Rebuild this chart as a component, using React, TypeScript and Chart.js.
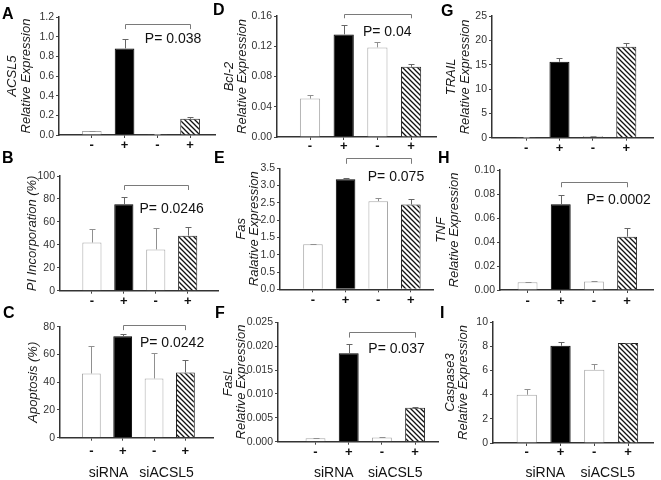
import React, { useEffect, useRef } from "react";
import { Chart, registerables } from "chart.js";

Chart.register(...registerables);

const FONT = "'Liberation Sans', Arial, Helvetica, sans-serif";
Chart.defaults.font.family = FONT;

// ---------- data ----------
const signs = ["-", "+", "-", "+"];
const barSlots = [1, 2, 3, 4];
const groupNames = ["siRNA", "siACSL5"];
const groupSlots = [1.55, 3.4];

const acsl5Values = [0.04, 0.88, 0.007, 0.165];
const acsl5Errors = [0.004, 0.1, 0.002, 0.018];
const piValues = [42, 75.3, 36, 48];
const piErrors = [12.2, 6, 18.4, 7.2];
const apoptosisValues = [46.3, 73.2, 42.7, 47];
const apoptosisErrors = [19.7, 1.8, 18.7, 8.9];
const bcl2Values = [0.0508, 0.1357, 0.1185, 0.0928];
const bcl2Errors = [0.0044, 0.0123, 0.0065, 0.0031];
const fasValues = [1.3, 3.18, 2.55, 2.45];
const fasErrors = [0.02, 0.05, 0.08, 0.15];
const faslValues = [0.0007, 0.0185, 0.0009, 0.0071];
const faslErrors = [0.0001, 0.002, 0.0001, 0.0002];
const trailValues = [0.14, 15.6, 0.34, 18.7];
const trailErrors = [0.05, 0.7, 0.05, 0.7];
const tnfValues = [0.0065, 0.0714, 0.007, 0.0444];
const tnfErrors = [0.0003, 0.0078, 0.0003, 0.0076];
const casp3Values = [3.99, 8.04, 6.06, 8.26];
const casp3Errors = [0.5, 0.31, 0.47, 0.03];

const acsl5Bracket = { level: 1.13, drop: 1.077, textX: 2.62, textY: 0.97, label: "P= 0.038" };
const piBracket = { level: 92.2, drop: 87.8, textX: 2.49, textY: 70.9, label: "P= 0.0246" };
const apoptosisBracket = { level: 81.5, drop: 77.5, textX: 2.55, textY: 68.3, label: "P= 0.0242" };
const bcl2Bracket = { level: 0.1627, drop: 0.157, textX: 2.57, textY: 0.138, label: "P= 0.04" };
const fasBracket = { level: 3.79, drop: 3.63, textX: 2.68, textY: 3.23, label: "P= 0.075" };
const faslBracket = { level: 0.0229, drop: 0.0218, textX: 2.59, textY: 0.0194, label: "P= 0.037" };
const tnfBracket = { level: 0.0903, drop: 0.0856, textX: 2.78, textY: 0.075, label: "P= 0.0002" };

// ---------- layout ----------
type Bracket = { level: number; drop: number; textX: number; textY: number; label: string };
type Box = { left: number; top: number; width: number; height: number };
type PanelSpec = {
  letter: string;
  letterPos: [number, number];
  box: Box;
  axisX: number;
  topY: number;
  zeroY: number;
  endX: number;
  xMin: number;
  xMax: number;
  title: string | string[];
  titleX: number;
  yMax: number;
  yStep: number;
  decimals: number;
  values: number[];
  errors: number[];
  bracket: Bracket | null;
  tickLabelY: number;
  groupY: number | null;
};

const cols = [
  { left: 0, width: 219 },
  { left: 205, width: 235 },
  { left: 425, width: 236 },
];
const rows = [
  { top: 0, height: 156 },
  { top: 148, height: 162 },
  { top: 303, height: 177 },
];
const cell = (c: number, r: number): Box => ({
  left: cols[c].left,
  width: cols[c].width,
  top: rows[r].top,
  height: rows[r].height,
});

const panels: PanelSpec[] = [
  {
    letter: "A", letterPos: [3, 8], box: cell(0, 0),
    axisX: 59, topY: 17, zeroY: 135, endX: 215, xMin: 0, xMax: 4.76,
    title: ["ACSL5", "Relative Expression"], titleX: 12.5,
    yMax: 1.2, yStep: 0.2, decimals: 1,
    values: acsl5Values, errors: acsl5Errors, bracket: acsl5Bracket,
    tickLabelY: 145, groupY: null,
  },
  {
    letter: "B", letterPos: [3, 152], box: cell(0, 1),
    axisX: 60, topY: 176, zeroY: 290.7, endX: 218, xMin: 0, xMax: 4.95,
    title: "PI Incorporation (%)", titleX: 32,
    yMax: 100, yStep: 20, decimals: 0,
    values: piValues, errors: piErrors, bracket: piBracket,
    tickLabelY: 301, groupY: null,
  },
  {
    letter: "C", letterPos: [4, 307], box: cell(0, 2),
    axisX: 60, topY: 326.7, zeroY: 437.7, endX: 213, xMin: 0, xMax: 4.88,
    title: "Apoptosis (%)", titleX: 33,
    yMax: 80, yStep: 20, decimals: 0,
    values: apoptosisValues, errors: apoptosisErrors, bracket: apoptosisBracket,
    tickLabelY: 451.7, groupY: 473.3,
  },
  {
    letter: "D", letterPos: [214, 4], box: cell(1, 0),
    axisX: 277, topY: 16, zeroY: 137, endX: 436, xMin: 0.02, xMax: 4.74,
    title: ["Bcl-2", "Relative Expression"], titleX: 229,
    yMax: 0.16, yStep: 0.04, decimals: 2,
    values: bcl2Values, errors: bcl2Errors, bracket: bcl2Bracket,
    tickLabelY: 146, groupY: null,
  },
  {
    letter: "E", letterPos: [215, 152], box: cell(1, 1),
    axisX: 280, topY: 168.3, zeroY: 289.3, endX: 433, xMin: -0.01, xMax: 4.68,
    title: ["Fas", "Ralative Expression"], titleX: 241,
    yMax: 3.5, yStep: 0.5, decimals: 1,
    values: fasValues, errors: fasErrors, bracket: fasBracket,
    tickLabelY: 300, groupY: null,
  },
  {
    letter: "F", letterPos: [216, 307], box: cell(1, 2),
    axisX: 278, topY: 322.3, zeroY: 441.7, endX: 438, xMin: -0.13, xMax: 4.69,
    title: ["FasL", "Relative Expression"], titleX: 228,
    yMax: 0.025, yStep: 0.005, decimals: 3,
    values: faslValues, errors: faslErrors, bracket: faslBracket,
    tickLabelY: 452.3, groupY: 473.3,
  },
  {
    letter: "G", letterPos: [442, 5], box: cell(2, 0),
    axisX: 492, topY: 16, zeroY: 137.7, endX: 653, xMin: -0.02, xMax: 4.8,
    title: ["TRAIL", "Relative Expression"], titleX: 451.7,
    yMax: 25, yStep: 5, decimals: 0,
    values: trailValues, errors: trailErrors, bracket: null,
    tickLabelY: 148, groupY: null,
  },
  {
    letter: "H", letterPos: [439, 152], box: cell(2, 1),
    axisX: 500, topY: 170, zeroY: 290, endX: 653, xMin: 0.17, xMax: 4.78,
    title: ["TNF", "Relative Expression"], titleX: 441,
    yMax: 0.1, yStep: 0.02, decimals: 2,
    values: tnfValues, errors: tnfErrors, bracket: tnfBracket,
    tickLabelY: 301.7, groupY: null,
  },
  {
    letter: "I", letterPos: [441, 307], box: cell(2, 2),
    axisX: 493, topY: 322, zeroY: 443, endX: 653, xMin: 0, xMax: 4.74,
    title: ["Caspase3", "Relative Expression"], titleX: 450,
    yMax: 10, yStep: 2, decimals: 0,
    values: casp3Values, errors: casp3Errors, bracket: null,
    tickLabelY: 452, groupY: 473.3,
  },
];

const barFills = ["#ffffff", "#000000", "#ffffff", "HATCH"];
const barBorders = ["#a8a8a8", "#000000", "#a8a8a8", "#222222"];
const errColors = ["#909090", "#666666", "#909090", "#666666"];

function makeHatch(): CanvasPattern | string {
  const s = 5;
  const c = document.createElement("canvas");
  c.width = s;
  c.height = s;
  const g = c.getContext("2d");
  if (!g) return "#ffffff";
  g.fillStyle = "#ffffff";
  g.fillRect(0, 0, s, s);
  g.strokeStyle = "#111111";
  g.lineWidth = 1.3;
  g.beginPath();
  g.moveTo(-1, -1);
  g.lineTo(s + 1, s + 1);
  g.moveTo(-1, s - 1);
  g.lineTo(1, s + 1);
  g.moveTo(s - 1, -1);
  g.lineTo(s + 1, 1);
  g.stroke();
  return g.createPattern(c, "repeat") || "#ffffff";
}

const TITLE_SIZE = 13;
const TITLE_LH = 1.05;

function Panel({ spec }: { spec: PanelSpec }) {
  const ref = useRef<HTMLCanvasElement | null>(null);

  useEffect(() => {
    const canvas = ref.current;
    if (!canvas) return;
    const { box } = spec;
    const hatch = makeHatch();

    const annotate = {
      id: "annot" + spec.letter,
      afterDatasetsDraw(chart: any) {
        const ctx: CanvasRenderingContext2D = chart.ctx;
        const xs = chart.scales.x;
        const ys = chart.scales.y;
        const meta = chart.getDatasetMeta(0);
        ctx.save();
        // error bars (upper only)
        spec.values.forEach((v, i) => {
          const e = spec.errors[i];
          if (!e) return;
          const el = meta.data[i];
          const x = Math.round(el.x) + 0.5;
          const y0 = ys.getPixelForValue(v);
          const y1 = Math.round(ys.getPixelForValue(v + e)) + 0.5;
          ctx.strokeStyle = errColors[i];
          ctx.lineWidth = 1;
          ctx.beginPath();
          ctx.moveTo(x, y0);
          ctx.lineTo(x, y1);
          ctx.moveTo(x - 3, y1);
          ctx.lineTo(x + 3, y1);
          ctx.stroke();
        });
        // significance bracket
        const b = spec.bracket;
        if (b) {
          const x1 = Math.round(xs.getPixelForValue(2)) + 0.5;
          const x2 = Math.round(xs.getPixelForValue(4)) + 0.5;
          const yb = Math.round(ys.getPixelForValue(b.level)) + 0.5;
          const yd = ys.getPixelForValue(b.drop);
          ctx.strokeStyle = "#7a7a7a";
          ctx.lineWidth = 1;
          ctx.beginPath();
          ctx.moveTo(x1, yd);
          ctx.lineTo(x1, yb);
          ctx.lineTo(x2, yb);
          ctx.lineTo(x2, yd);
          ctx.stroke();
          ctx.fillStyle = "#111111";
          ctx.font = `14px ${FONT}`;
          ctx.textAlign = "left";
          ctx.textBaseline = "middle";
          ctx.fillText(b.label, xs.getPixelForValue(b.textX), ys.getPixelForValue(b.textY));
        }
        // group labels
        if (spec.groupY !== null) {
          ctx.fillStyle = "#111111";
          ctx.font = `14px ${FONT}`;
          ctx.textAlign = "center";
          ctx.textBaseline = "middle";
          groupNames.forEach((name, i) => {
            ctx.fillText(name, xs.getPixelForValue(groupSlots[i]), (spec.groupY as number) - box.top);
          });
        }
        ctx.restore();
      },
    };

    const titleLinePx = TITLE_SIZE * TITLE_LH;
    const xTickFont = 13;

    const chart = new Chart(canvas, {
      type: "bar",
      data: {
        datasets: [
          {
            data: barSlots.map((x, i) => ({ x, y: spec.values[i] })) as any,
            backgroundColor: barFills.map((f) => (f === "HATCH" ? hatch : f)) as any,
            borderColor: barBorders,
            borderWidth: 1,
            categoryPercentage: 1,
            barPercentage: 0.6,
          },
        ],
      },
      options: {
        animation: false,
        responsive: false,
        events: [],
        layout: {
          padding: {
            left: 0,
            top: spec.topY - box.top,
            right: box.left + box.width - spec.endX,
            bottom: 0,
          },
        },
        plugins: {
          legend: { display: false },
          tooltip: { enabled: false },
        },
        scales: {
          x: {
            type: "linear",
            offset: false,
            min: spec.xMin,
            max: spec.xMax,
            afterBuildTicks: (s: any) => {
              s.ticks = barSlots.map((v) => ({ value: v }));
            },
            afterFit: (s: any) => {
              s.height = box.top + box.height - spec.zeroY;
            },
            grid: {
              display: true,
              drawOnChartArea: false,
              drawTicks: true,
              tickLength: 3,
              color: "#444444",
              offset: false,
            },
            border: { display: true, color: "#333333", width: 1.5 },
            ticks: {
              autoSkip: false,
              maxRotation: 0,
              color: "#111111",
              font: { size: xTickFont, lineHeight: 1, weight: "bold" },
              padding: spec.tickLabelY - spec.zeroY - 3 - xTickFont / 2,
              callback: (_v: any, i: number) => signs[i],
            },
          },
          y: {
            type: "linear",
            min: 0,
            max: spec.yMax,
            afterFit: (s: any) => {
              s.width = spec.axisX - box.left;
            },
            grid: {
              display: true,
              drawOnChartArea: false,
              drawTicks: true,
              tickLength: 3,
              color: "#444444",
            },
            border: { display: true, color: "#333333", width: 1.5 },
            ticks: {
              stepSize: spec.yStep,
              color: "#333333",
              font: { size: 10.5 },
              padding: 2,
              callback: (v: any) => Number(v).toFixed(spec.decimals),
            },
            title: {
              display: true,
              text: spec.title,
              color: "#1a1a1a",
              font: { size: TITLE_SIZE, style: "italic", lineHeight: TITLE_LH },
              padding: { top: spec.titleX - box.left - titleLinePx / 2, bottom: 0 },
            },
          },
        },
      },
      plugins: [annotate],
    } as any);

    return () => {
      chart.destroy();
    };
  }, [spec]);

  return (
    <canvas
      ref={ref}
      width={spec.box.width}
      height={spec.box.height}
      style={{
        position: "absolute",
        left: spec.box.left,
        top: spec.box.top,
        width: spec.box.width,
        height: spec.box.height,
      }}
    />
  );
}

export default function App() {
  return (
    <div
      style={{
        position: "absolute",
        left: 0,
        top: 0,
        width: 661,
        height: 480,
        background: "#ffffff",
        overflow: "hidden",
        fontFamily: FONT,
      }}
    >
      {panels.map((p) => (
        <Panel key={p.letter} spec={p} />
      ))}
      {panels.map((p) => (
        <div
          key={"L" + p.letter}
          style={{
            position: "absolute",
            left: p.letterPos[0] - 1,
            top: p.letterPos[1] - 2,
            fontSize: 16,
            lineHeight: "16px",
            fontWeight: "bold",
            color: "#000",
            fontFamily: FONT,
          }}
        >
          {p.letter}
        </div>
      ))}
    </div>
  );
}
